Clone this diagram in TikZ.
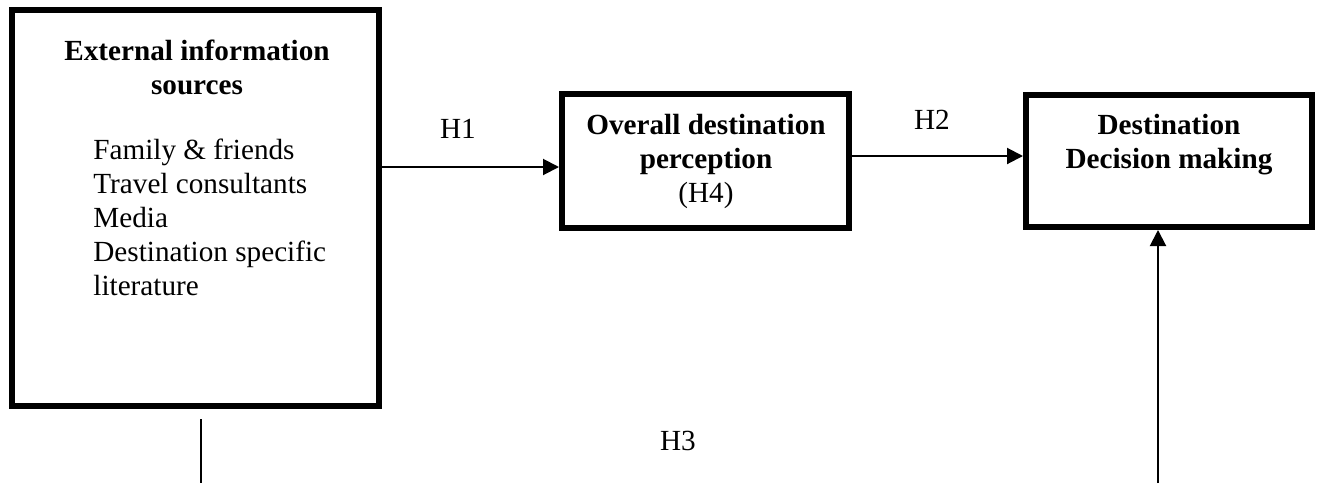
\documentclass[tikz,border=0pt]{standalone}
\usepackage{fontspec}
\setmainfont{Liberation Serif}
\usetikzlibrary{arrows.meta,positioning}

\begin{document}
\begin{tikzpicture}[
          x=0.5pt, y=-0.5pt,
          box/.style={rectangle, draw, line width=3pt, inner sep=0pt},
          txt/.style={align=center, inner sep=0pt, font=\fontsize{14.6}{17}\selectfont},
          head/.style={txt, font=\fontsize{14.6}{17}\selectfont\bfseries},
          link/.style={line width=1pt},
          >={Triangle[length=8pt,width=8pt]}
        ]
        \useasboundingbox (0,0) rectangle (1323,483);
        % the three boxes
        \node[box, minimum width=183.5pt, minimum height=198pt] (src) at (195.5,208) {};
        \node[box, minimum width=143.5pt, minimum height=67pt] (perc) at (705.5,161) {};
        \node[box, minimum width=143pt, minimum height=66pt] (dec) at (1169,161) {};
        % box texts
        \node[head, anchor=north] (srctitle) at (197,40) {External information\\sources};
        \node[txt, align=left, anchor=north west] (srclist) at (93,139)
          {Family \& friends\\Travel consultants\\Media\\Destination specific\\literature};
        \node[head, anchor=north] (perctitle) at (706,114) {Overall destination\\perception\\\mdseries (H4)};
        \node[head, anchor=north] (dectitle) at (1169,114) {Destination\\Decision making};
        % links
        \coordinate (y1) at (0,167);
        \coordinate (y2) at (0,156);
        \coordinate (inlow) at (1158,483);
        \coordinate (outtop) at (201,419);
        \coordinate (outlow) at (201,483);
        \draw[link, ->] (src.east |- y1) -- (perc.west |- y1);
        \draw[link, ->] (perc.east |- y2) -- (dec.west |- y2);
        \draw[link, ->] (inlow) -- (dec.south -| inlow);
        \draw[link] (outtop) -- (outlow);
        \node[txt, anchor=base] (h1) at (458,138) {H1};
        \node[txt, anchor=base] (h2) at (932,129) {H2};
        \node[txt, anchor=base] (h3) at (678,450) {H3};
      \end{tikzpicture}
\end{document}
